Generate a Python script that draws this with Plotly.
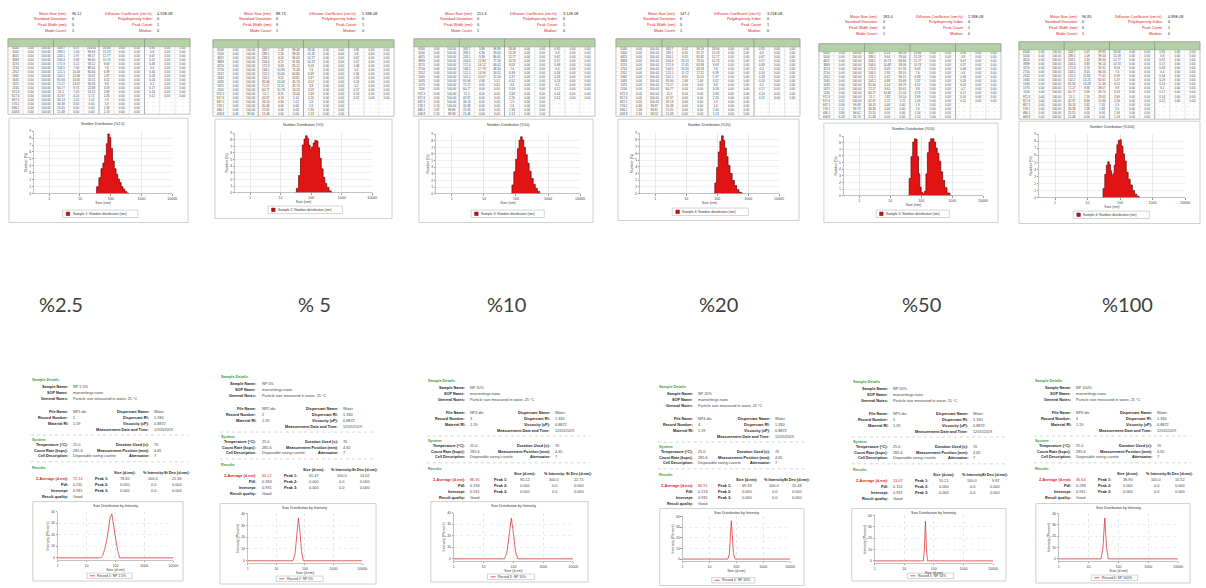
import numpy as np
import plotly.graph_objects as go

W, H = 1206, 588

# ------------------------------------------------------------------ data
CONC_LABELS = ["%2.5", "% 5", "%10", "%20", "%50", "%100"]

# number distributions (top panels): size (nm) / number (%)
HIST_SIZE_1 = [32, 38, 45, 52, 60, 68, 77, 85, 95, 107, 122, 140, 160, 180, 205, 235, 270, 310, 360, 400]
HIST_NUM_1 = [0, 1.0, 2.3, 3.6, 4.4, 5.5, 7.2, 8.6, 8.1, 6.5, 4.7, 3.6, 2.8, 2.1, 1.6, 1.0, 0.65, 0.33, 0.1, 0]
HIST_SIZE_2 = [30, 36, 42, 48, 55, 62, 70, 78, 88, 98, 110, 125, 140, 158, 178, 200, 230, 265, 300, 350, 420, 500]
HIST_NUM_2 = [0, 0.65, 2.6, 5.2, 7.2, 8.1, 8.6, 8.2, 7.2, 6.5, 6.9, 7.5, 7.9, 7.8, 6.8, 5.2, 3.6, 2.3, 1.4, 0.8, 0.26, 0]
HIST_SIZE_3 = [70, 80, 92, 105, 118, 132, 148, 165, 185, 210, 240, 275, 320, 370, 430, 500, 600]
HIST_NUM_3 = [0, 1.3, 3.3, 5.2, 6.8, 8.1, 8.6, 8.1, 7.0, 5.9, 4.6, 3.4, 2.3, 1.4, 0.8, 0.33, 0]
HIST_SIZE_4 = [78, 90, 102, 115, 130, 148, 165, 185, 210, 240, 280, 330, 390, 460, 550, 700]
HIST_NUM_4 = [0, 1.6, 3.9, 6.2, 7.8, 8.6, 7.9, 6.8, 5.5, 4.2, 3.0, 1.95, 1.2, 0.6, 0.2, 0]
HIST_SIZE_5 = [38, 44, 50, 57, 64, 70, 78, 86, 95, 105, 118, 135, 150, 168, 190, 215, 245, 275, 310, 350, 400, 460, 530, 620, 750, 950]
HIST_NUM_5 = [0, 2.6, 5.9, 8.1, 8.6, 8.5, 5.9, 3.3, 1.3, 0.5, 0.3, 0.65, 3.3, 6.5, 8.1, 8.6, 8.6, 8.1, 7.2, 6.4, 5.2, 3.6, 2.3, 1.2, 0.4, 0]
HIST_SIZE_6 = [28, 32, 36, 40, 44, 48, 53, 58, 63, 69, 76, 84, 93, 103, 115, 130, 145, 165, 190, 220, 260, 300, 350, 420]
HIST_NUM_6 = [0, 1.3, 3.3, 4.6, 5.1, 4.7, 3.8, 3.1, 3.4, 4.6, 6.2, 7.5, 8.1, 8.2, 7.3, 6.2, 5.2, 3.6, 2.6, 1.8, 1.0, 0.5, 0.2, 0]
HIST_SIZES = [HIST_SIZE_1, HIST_SIZE_2, HIST_SIZE_3, HIST_SIZE_4, HIST_SIZE_5, HIST_SIZE_6]
HIST_NUMS = [HIST_NUM_1, HIST_NUM_2, HIST_NUM_3, HIST_NUM_4, HIST_NUM_5, HIST_NUM_6]

# intensity distributions (bottom panels): size (d.nm) / intensity (%)
DLS_SIZE_1 = [1, 30, 36, 42, 50, 58, 66, 75, 86, 100, 118, 140, 10000]
DLS_INT_1 = [0, 0, 2, 7, 15, 26, 35, 38, 30, 18, 7, 0, 0]
DLS_SIZE_2 = [1, 38, 45, 52, 59, 67, 76, 88, 10000]
DLS_INT_2 = [0, 0, 6, 22, 36, 24, 8, 0, 0]
DLS_SIZE_3 = [1, 50, 60, 72, 85, 100, 118, 140, 10000]
DLS_INT_3 = [0, 0, 5, 20, 35, 22, 6, 0, 0]
DLS_SIZE_4 = [1, 48, 55, 60, 65, 71, 78, 88, 10000]
DLS_INT_4 = [0, 0, 5, 20, 36, 22, 6, 0, 0]
DLS_SIZE_5 = [1, 44, 48, 52, 56, 61, 10000]
DLS_INT_5 = [0, 0, 10, 35, 12, 0, 0]
DLS_SIZE_6 = [1, 26, 30, 35, 40, 46, 10000]
DLS_INT_6 = [0, 0, 8, 36, 10, 0, 0]
DLS_SIZES = [DLS_SIZE_1, DLS_SIZE_2, DLS_SIZE_3, DLS_SIZE_4, DLS_SIZE_5, DLS_SIZE_6]
DLS_INTS = [DLS_INT_1, DLS_INT_2, DLS_INT_3, DLS_INT_4, DLS_INT_5, DLS_INT_6]

SIZE_TICKS = [1, 10, 100, 1000, 10000]
SIZE_TICK_TEXT = ["1", "10", "100", "1000", "10000"]

# table size channels (nm), four column groups
TABLE_BINS = [6540, 5500, 4625, 3889, 3270, 2750, 2312, 1945, 1635, 1375, 1156, 972.3, 817.6, 687.5, 578.1, 486.1, 408.8,
              343.7, 289.1, 243.1, 204.4, 171.9, 144.5, 121.5, 102.2, 85.94, 72.27, 60.77, 51.10, 42.97, 36.13, 30.38, 25.55,
              21.48, 18.06, 15.19, 12.77, 10.74, 9.03, 7.60, 6.39, 5.37, 4.52, 3.80, 3.19, 2.69, 2.26, 1.90, 1.60, 1.34,
              1.13, 0.95, 0.80, 0.67, 0.57, 0.48, 0.40, 0.34, 0.28, 0.24, 0.20, 0.17, 0.14, 0.12]
TABLE_HEADER = ["Size<br>(nm)", "%Chan", "%Pass"]

MEAN_SIZE = ["96.12", "88.73", "151.6", "147.2", "183.4", "96.85"]
DIFF_COEF = ["4.92E-08", "5.33E-08", "3.12E-08", "3.21E-08", "2.58E-08", "4.89E-08"]
Z_AVG = ["72.14", "60.22", "86.35", "66.91", "53.07", "36.64"]
PDI = ["0.211", "0.183", "0.196", "0.174", "0.152", "0.238"]
PEAK1 = ["78.82", "61.47", "90.12", "69.33", "55.21", "38.90"]
PEAK1_SD = ["21.36", "14.02", "22.71", "15.48", "9.87", "10.52"]
SAMPLE_NAMES = ["NP 2.5%", "NP 5%", "NP 10%", "NP 20%", "NP 50%", "NP 100%"]

# ------------------------------------------------------------------ layout constants
TOP_TABLE = [(7, 190, 37, 113), (213, 395, 38, 115), (415, 597, 37, 115), (618, 803, 37, 115), (822, 1005, 42, 118), (1023, 1205, 40, 118)]
TOP_BOX = [(8, 188, 117, 222), (215, 393, 118, 218), (420, 595, 118, 222), (620, 802, 118, 220), (827, 1002, 122, 222), (1023, 1205, 120, 223)]
TOP_PLOT = [(33, 172, 130, 193), (235, 373, 132, 192), (437, 582, 133, 193), (642, 782, 132, 193), (847, 987, 135, 195), (1043, 1190, 133, 197)]
TOP_LABEL_Y = [12, 12, 12, 12, 15, 15]

BOT_X = [(30, 188), (220, 377), (428, 592), (660, 810), (855, 1010), (1038, 1196)]
BOT_BASE = [381, 378, 382, 388, 383, 382]
BOT_BOX = [(32, 183, 503, 583), (220, 377, 505, 586), (432, 590, 503, 584), (662, 807, 510, 587.5), (855, 1010, 510, 583), (1040, 1195, 505, 585)]
BOT_PLOT = [(57, 173, 513, 562), (248, 363, 515, 565), (455, 575, 514, 563), (685, 793, 518, 563), (878, 997, 517, 565), (1063, 1183, 515, 563)]

CONC_X = [37, 297, 487, 700, 905, 1105]
CONC_Y = 304

FONT = "Liberation Sans"
RED = "#e02020"
GREEN = "#3a9a3a"
ROWS = 17
HEAD_UNITS = 2.0


def X(px):
    return px / W


def Y(py):
    return 1 - py / H


annotations = []
shapes = []


def txt(px, py, s, size=4, color="#333", anchor="left", bold=False, family=FONT, angle=0):
    if bold:
        s = "<b>" + s + "</b>"
    annotations.append(dict(x=X(px), y=Y(py), xref="paper", yref="paper", text=s, showarrow=False,
                            xanchor=anchor, yanchor="middle", textangle=angle, borderpad=0,
                            font=dict(size=size, color=color, family=family)))


def rect(x0, y0, x1, y1, line="#bbbbbb", fill="rgba(0,0,0,0)", width=0.6):
    shapes.append(dict(type="rect", xref="paper", yref="paper", x0=X(x0), x1=X(x1), y0=Y(y1), y1=Y(y0),
                       line=dict(color=line, width=width), fillcolor=fill))


def line(x0, y0, x1, y1, color="#bbbbbb", dash="solid", width=0.6):
    shapes.append(dict(type="line", xref="paper", yref="paper", x0=X(x0), x1=X(x1), y0=Y(y0), y1=Y(y1),
                       line=dict(color=color, width=width, dash=dash)))


fig = go.Figure()
axes = {}


def axis_names(k):
    return ("x" if k == 1 else f"x{k}", "y" if k == 1 else f"y{k}",
            "xaxis" if k == 1 else f"xaxis{k}", "yaxis" if k == 1 else f"yaxis{k}")


bins = np.array(TABLE_BINS, dtype=float)

# ------------------------------------------------------------------ top panels
for i in range(6):
    k = i + 1
    xr, yr, xa, ya = axis_names(k)
    tx0, tx1, ty0, ty1 = TOP_TABLE[i]
    tw = tx1 - tx0
    ly = TOP_LABEL_Y[i]

    left_labels = ["Mean Size (nm):", "Standard Deviation:", "Peak Width (nm):", "Mode Count:"]
    left_vals = [MEAN_SIZE[i], "0", "0", "1"]
    right_labels = ["Diffusion Coefficient (cm²/s):", "Polydispersity Index:", "Peak Count:", "Median:"]
    right_vals = [DIFF_COEF[i], "0", "1", "0"]
    for r in range(4):
        yy = ly + 5.6 * r
        txt(tx0 + 0.33 * tw, yy, left_labels[r], size=3.8, color=RED, anchor="right")
        txt(tx0 + 0.345 * tw, yy, left_vals[r], size=3.8, color="#222")
        txt(tx0 + 0.80 * tw, yy, right_labels[r], size=3.8, color=RED, anchor="right")
        txt(tx0 + 0.815 * tw, yy, right_vals[r], size=3.8, color="#222")

    # ---- table built from the distribution (text trace on a hidden axis)
    sz = np.array(HIST_SIZES[i], dtype=float)
    nm = np.array(HIST_NUMS[i], dtype=float)
    chan = np.interp(np.log10(bins), np.log10(sz), nm, left=0, right=0)
    chan = chan / chan.sum() * 100
    passing = np.array([chan[j:].sum() for j in range(len(chan))])
    tx, ty, tt = [], [], []
    for g in range(4):
        for c in range(3):
            tx.append(g * 3 + c + 0.5)
            ty.append(-HEAD_UNITS / 2)
            tt.append(TABLE_HEADER[c])
        for r in range(ROWS):
            j = g * ROWS + r
            if j >= len(bins):
                break
            for c, s in enumerate([f"{bins[j]:g}", f"{chan[j]:.2f}", f"{passing[j]:.2f}"]):
                tx.append(g * 3 + c + 0.5)
                ty.append(r + 0.5)
                tt.append(s)
    kt = 12 + k
    txr, tyr, txa, tya = axis_names(kt)
    unit = (ty1 - ty0) / (ROWS + HEAD_UNITS)
    rect(tx0, ty0, tx1, ty0 + HEAD_UNITS * unit, line="#8fae82", fill="#b4d0a6", width=0.5)
    for r in range(1, ROWS):
        yy = ty0 + (HEAD_UNITS + r) * unit
        line(tx0, yy, tx1, yy, color="#d4d4d4", width=0.4, dash="dot")
    for c in range(1, 12):
        xx = tx0 + tw * c / 12
        line(xx, ty0, xx, ty1, color="#8a8a8a" if c % 3 == 0 else "#c4c4c4", width=0.7 if c % 3 == 0 else 0.4)
    rect(tx0, ty0, tx1, ty1, line="#9a9a9a", width=0.6)
    fig.add_trace(go.Scatter(x=tx, y=ty, text=tt, mode="text", xaxis=txr, yaxis=tyr,
                             textfont=dict(size=3, color="#444", family=FONT), showlegend=False, hoverinfo="skip"))
    axes[txa] = dict(domain=[X(tx0), X(tx1)], anchor=tyr, range=[0, 12], visible=False, fixedrange=True)
    axes[tya] = dict(domain=[Y(ty1), Y(ty0)], anchor=txr, range=[ROWS, -HEAD_UNITS], visible=False, fixedrange=True)

    # ---- histogram frame
    bx0, bx1, by0, by1 = TOP_BOX[i]
    rect(bx0, by0, bx1, by1, line="#c4c4c4", width=0.8)
    px0, px1, py0, py1 = TOP_PLOT[i]
    txt((px0 + px1) / 2, by0 + 5.5, f"Number Distribution ({CONC_LABELS[i].replace(' ', '')})", size=3.6, color="#333", anchor="center")
    bw = bx1 - bx0
    rect(bx0 + 0.30 * bw, by1 - 12.5, bx0 + 0.72 * bw, by1 - 5, line="#aaaaaa", width=0.5)
    rect(bx0 + 0.32 * bw, by1 - 10.5, bx0 + 0.32 * bw + 3.5, by1 - 7, line="#600000", fill="#d01010", width=0.5)
    txt(bx0 + 0.35 * bw, by1 - 8.75, f"Sample {k}: Number distribution (nm)", size=3.4, color="#333")

    fig.add_trace(go.Scatter(x=HIST_SIZES[i], y=HIST_NUMS[i], mode="lines",
                             line=dict(color="#6e0000", width=0.7, shape="hvh"),
                             fill="tozeroy", fillcolor="#e01414", xaxis=xr, yaxis=yr,
                             showlegend=False, hoverinfo="skip"))
    axes[xa] = dict(domain=[X(px0), X(px1)], anchor=yr, type="log", range=[-0.5, 4],
                    tickvals=SIZE_TICKS, ticktext=SIZE_TICK_TEXT, tickfont=dict(size=3.6, color="#444", family=FONT),
                    ticks="outside", ticklen=1.5, tickcolor="#999", showline=True, linecolor="#999", linewidth=0.6,
                    showgrid=True, gridcolor="#d6d6d6", gridwidth=0.5, zeroline=False,
                    title=dict(text="Size (nm)", font=dict(size=3.6, color="#444", family=FONT), standoff=1))
    axes[ya] = dict(domain=[Y(py1), Y(py0)], anchor=xr, range=[0, 9], dtick=1,
                    tickfont=dict(size=3.4, color="#444", family=FONT), ticks="outside", ticklen=1.5, tickcolor="#999",
                    showline=True, linecolor="#999", linewidth=0.6, showgrid=True, gridcolor="#e2e2e2",
                    gridwidth=0.5, zeroline=False,
                    title=dict(text="Number (%)", font=dict(size=3.6, color="#444", family=FONT), standoff=1))

# ------------------------------------------------------------------ concentration labels
for i in range(6):
    txt(CONC_X[i], CONC_Y, CONC_LABELS[i], size=20, color="#404040", family="Lato")

# ------------------------------------------------------------------ bottom panels
for i in range(6):
    k = i + 7
    xr, yr, xa, ya = axis_names(k)
    x0, x1 = BOT_X[i]
    w = x1 - x0
    b = BOT_BASE[i]
    fs = 3.8
    L, V, L2, V2 = x0 + 0.24 * w, x0 + 0.26 * w, x0 + 0.76 * w, x0 + 0.78 * w

    txt(x0, b, "Sample Details", size=fs, color=GREEN, bold=True)
    rows1 = [("Sample Name:", SAMPLE_NAMES[i]), ("SOP Name:", "mansettings.nano"),
             ("General Notes:", "Particle size measured in water, 25 °C")]
    for r, (lab, val) in enumerate(rows1):
        txt(L, b + 6.5 + 6 * r, lab, size=fs, anchor="right", bold=True, color="#222")
        txt(V, b + 6.5 + 6 * r, val, size=fs, color="#444")
    rows2 = [("File Name:", f"NP{k - 6}.dts", "Dispersant Name:", "Water"),
             ("Record Number:", str(k - 6), "Dispersant RI:", "1.330"),
             ("Material RI:", "1.59", "Viscosity (cP):", "0.8872"),
             ("", "", "Measurement Date and Time:", "12/05/2019")]
    for r, (a1, v1, a2, v2) in enumerate(rows2):
        yy = b + 32 + 6 * r
        if a1:
            txt(L, yy, a1, size=fs, anchor="right", bold=True, color="#222")
            txt(V, yy, v1, size=fs, color="#444")
        txt(L2, yy, a2, size=fs, anchor="right", bold=True, color="#222")
        txt(V2, yy, v2, size=fs, color="#444")
    line(x0, b + 55, x1, b + 55, dash="dot")
    txt(x0, b + 60, "System", size=fs, color=GREEN, bold=True)
    rows3 = [("Temperature (°C):", "25.0", "Duration Used (s):", "70"),
             ("Count Rate (kcps):", "285.6", "Measurement Position (mm):", "4.65"),
             ("Cell Description:", "Disposable sizing cuvette", "Attenuator:", "7")]
    for r, (a1, v1, a2, v2) in enumerate(rows3):
        yy = b + 65.5 + 5.5 * r
        txt(L, yy, a1, size=fs, anchor="right", bold=True, color="#222")
        txt(V, yy, v1, size=fs, color="#444")
        txt(L2, yy, a2, size=fs, anchor="right", bold=True, color="#222")
        txt(V2, yy, v2, size=fs, color="#444")
    line(x0, b + 82, x1, b + 82, dash="dot")
    txt(x0, b + 88, "Results", size=fs, color=GREEN, bold=True)
    txt(x0 + 0.60 * w, b + 93.5, "Size (d.nm):", size=fs, anchor="center", bold=True, color="#222")
    txt(x0 + 0.78 * w, b + 93.5, "% Intensity:", size=fs, anchor="center", bold=True, color="#222")
    txt(x0 + 0.93 * w, b + 93.5, "St Dev (d.nm):", size=fs, anchor="center", bold=True, color="#222")
    rows4 = [("Z-Average (d.nm):", Z_AVG[i], "Peak 1:", PEAK1[i], "100.0", PEAK1_SD[i]),
             ("PdI:", PDI[i], "Peak 2:", "0.000", "0.0", "0.000"),
             ("Intercept:", "0.931", "Peak 3:", "0.000", "0.0", "0.000"),
             ("Result quality:", "Good", "", "", "", "")]
    for r, (a1, v1, pk, s1, s2, s3) in enumerate(rows4):
        yy = b + 99.5 + 6 * r
        txt(L, yy, a1, size=fs, anchor="right", bold=True, color=RED if r == 0 else "#222")
        txt(V, yy, v1, size=fs, color=RED if r == 0 else "#444")
        if pk:
            txt(x0 + 0.50 * w, yy, pk, size=fs, anchor="right", bold=True, color="#222")
            txt(x0 + 0.60 * w, yy, s1, size=fs, anchor="center", color="#444")
            txt(x0 + 0.78 * w, yy, s2, size=fs, anchor="center", color="#444")
            txt(x0 + 0.93 * w, yy, s3, size=fs, anchor="center", color="#444")

    bx0, bx1, by0, by1 = BOT_BOX[i]
    rect(bx0, by0, bx1, by1, line="#c4c4c4", width=0.8)
    px0, px1, py0, py1 = BOT_PLOT[i]
    txt((px0 + px1) / 2, by0 + 4, "Size Distribution by Intensity", size=3.6, color="#333", anchor="center")
    bw = bx1 - bx0
    rect(bx0 + 0.36 * bw, by1 - 8, bx0 + 0.66 * bw, by1 - 2.5, line="#aaaaaa", width=0.5)
    line(bx0 + 0.38 * bw, by1 - 5.25, bx0 + 0.38 * bw + 5, by1 - 5.25, color="#e03030", width=0.8)
    txt(bx0 + 0.38 * bw + 6.5, by1 - 5.25, f"Record {k - 6}: {SAMPLE_NAMES[i]}", size=3.4, color="#333")

    fig.add_trace(go.Scatter(x=DLS_SIZES[i], y=DLS_INTS[i], mode="lines",
                             line=dict(color="#e03a3a", width=0.8), xaxis=xr, yaxis=yr,
                             showlegend=False, hoverinfo="skip"))
    axes[xa] = dict(domain=[X(px0), X(px1)], anchor=yr, type="log", range=[0, 4],
                    tickvals=SIZE_TICKS, ticktext=SIZE_TICK_TEXT, tickfont=dict(size=3.6, color="#444", family=FONT),
                    ticks="outside", ticklen=1.5, tickcolor="#999", showline=True, linecolor="#999", linewidth=0.6,
                    showgrid=True, gridcolor="#d0d0d0", gridwidth=0.5, griddash="dot", zeroline=False,
                    title=dict(text="Size (d.nm)", font=dict(size=3.6, color="#444", family=FONT), standoff=1))
    axes[ya] = dict(domain=[Y(py1), Y(py0)], anchor=xr, range=[-2, 40], tickvals=[0, 10, 20, 30, 40],
                    tickfont=dict(size=3.4, color="#444", family=FONT), ticks="outside", ticklen=1.5, tickcolor="#999",
                    showline=True, linecolor="#999", linewidth=0.6, showgrid=True, gridcolor="#e0e0e0",
                    gridwidth=0.5, griddash="dot", zeroline=False,
                    title=dict(text="Intensity (Percent)", font=dict(size=3.6, color="#444", family=FONT), standoff=1))

fig.update_layout(width=W, height=H, margin=dict(l=0, r=0, t=0, b=0), paper_bgcolor="white",
                  plot_bgcolor="rgba(0,0,0,0)", showlegend=False, shapes=shapes, annotations=annotations, **axes)

fig.write_html("out.html", config={"displayModeBar": False, "staticPlot": True},
               post_script="document.body.style.margin='0px';document.body.style.overflow='hidden';")
